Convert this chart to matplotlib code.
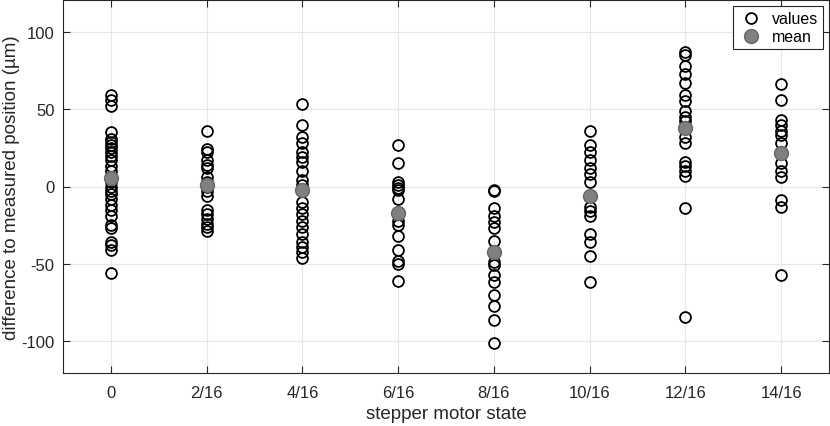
import matplotlib.pyplot as plt

plt.rcParams['font.family'] = ['Liberation Sans', 'DejaVu Sans']
plt.rcParams['axes.unicode_minus'] = False

# x tick labels (stepper motor states)
states = ['0', '2/16', '4/16', '6/16', '8/16', '10/16', '12/16', '14/16']

# measured differences (um) for each state
s0 = [59, 56, 52, 35, 31, 29, 27, 25, 22, 20, 17, 13, 10, 6, 3, 0, -3, -5,
      -8, -12, -15, -19, -25, -27, -36, -38, -41, -56]
s2 = [36, 24, 22, 17, 14, 12, 6, 3, 0, -3, -6, -15, -18, -21, -24, -26, -29]
s4 = [53, 40, 32, 28, 22, 19, 16, 10, 4, 1, -10, -14, -18, -22, -26, -31,
      -36, -39, -42, -46]
s6 = [27, 15, 3, 1, -1, -2, -8, -22, -25, -32, -41, -48, -50, -61]
s8 = [-2, -3, -14, -19, -23, -27, -35, -49, -51, -57, -62, -70, -77, -86, -101]
s10 = [36, 27, 22, 17, 12, 8, 3, -13, -16, -19, -31, -36, -45, -62]
s12 = [87, 85, 78, 73, 67, 59, 55, 49, 45, 42, 32, 28, 16, 13, 10, 7, -14, -84]
s14 = [66, 56, 43, 40, 36, 33, 28, 15, 10, 6, -9, -13, -57]
groups = [s0, s2, s4, s6, s8, s10, s12, s14]

# mean markers as drawn in the chart
means = [5.6, 1, -2, -17, -42, -6, 38, 21.6]

fig = plt.figure(figsize=(8.3, 4.27), dpi=100)
ax = fig.add_axes([63 / 830, 53 / 427, 766 / 830, 373 / 427])

for i, g in enumerate(groups):
    ax.plot([i] * len(g), g, 'o', mfc='none', mec='black', mew=1.3, ms=7.8,
            label='values' if i == 0 else None, zorder=3)
ax.plot(range(len(means)), means, 'o', color='#808080', mec='#666666',
        ms=10, label='mean', zorder=4)

ax.set_xlim(-0.5, 7.5)
ax.set_ylim(-120.5, 120.5)
ax.set_xticks(range(len(states)))
ax.set_xticklabels(states)
ax.set_yticks([-100, -50, 0, 50, 100])
ax.grid(True, color='#e6e6e6', lw=0.8)
ax.set_axisbelow(True)
ax.tick_params(direction='in', length=5, colors='#262626', labelsize=12,
               pad=6, top=True, right=True)
ax.tick_params(axis='x', pad=9)
for sp in ax.spines.values():
    sp.set_color('#262626')
    sp.set_linewidth(0.8)

ax.set_xlabel('stepper motor state', fontsize=13.5, color='#262626',
              labelpad=3)
ax.set_ylabel('difference to measured position (µm)', fontsize=13.5,
              color='#262626', labelpad=1)

leg = ax.legend(loc='upper right', fontsize=11.5, fancybox=False,
                edgecolor='#262626', framealpha=1, handletextpad=0.5,
                borderaxespad=0.4, handlelength=1.6, labelspacing=0.2,
                borderpad=0.3)
leg.get_frame().set_linewidth(0.8)

fig.savefig('out.png', dpi=100)
